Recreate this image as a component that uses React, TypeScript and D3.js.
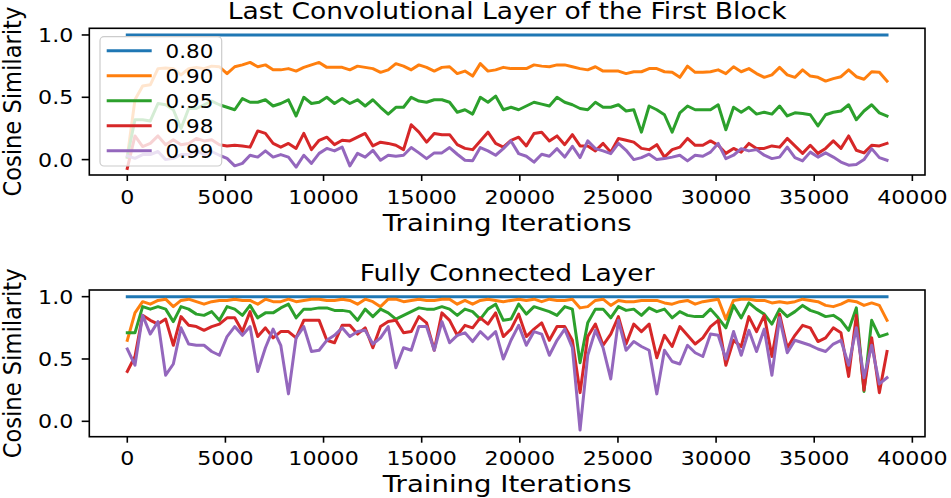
import * as React from 'react';
import * as d3 from 'd3';

// iterations per logged point (one epoch)
const STEP = 391;

const thresholds = ['0.80', '0.90', '0.95', '0.98', '0.99'];
const colors = ['#1f77b4', '#ff7f0e', '#2ca02c', '#d62728', '#9467bd'];
const xTicks = [0, 5000, 10000, 15000, 20000, 25000, 30000, 35000, 40000];
const yTicks = [0, 0.5, 1];

// Last Convolutional Layer of the First Block
const conv80 = Array.from({ length: 100 }, () => 1.0);
const conv90 = [0.02, 0.48, 0.59, 0.60, 0.73, 0.735, 0.73, 0.68, 0.73, 0.74,
  0.73, 0.75, 0.745, 0.69, 0.745, 0.76, 0.78, 0.745, 0.76, 0.72,
  0.72, 0.73, 0.71, 0.74, 0.76, 0.78, 0.74, 0.74, 0.74, 0.72,
  0.75, 0.74, 0.73, 0.70, 0.72, 0.77, 0.75, 0.72, 0.76, 0.74,
  0.71, 0.74, 0.745, 0.69, 0.71, 0.67, 0.77, 0.71, 0.72, 0.74,
  0.73, 0.73, 0.73, 0.76, 0.75, 0.745, 0.76, 0.76, 0.745, 0.73,
  0.72, 0.745, 0.71, 0.71, 0.71, 0.69, 0.705, 0.705, 0.73, 0.73,
  0.705, 0.70, 0.66, 0.75, 0.70, 0.70, 0.705, 0.72, 0.69, 0.745,
  0.705, 0.73, 0.69, 0.66, 0.68, 0.74, 0.68, 0.66, 0.72, 0.67,
  0.66, 0.63, 0.65, 0.665, 0.72, 0.665, 0.645, 0.705, 0.70, 0.63];
const conv95 = [0.02, 0.32, 0.32, 0.31, 0.45, 0.44, 0.40, 0.25, 0.41, 0.41,
  0.44, 0.47, 0.44, 0.42, 0.40, 0.49, 0.46, 0.46, 0.48, 0.43,
  0.45, 0.48, 0.35, 0.50, 0.45, 0.46, 0.50, 0.45, 0.49, 0.45,
  0.48, 0.43, 0.48, 0.42, 0.365, 0.42, 0.42, 0.50, 0.47, 0.46,
  0.48, 0.48, 0.46, 0.38, 0.40, 0.365, 0.50, 0.46, 0.51, 0.40,
  0.42, 0.40, 0.43, 0.46, 0.445, 0.43, 0.50, 0.46, 0.44, 0.41,
  0.40, 0.46, 0.42, 0.42, 0.44, 0.39, 0.40, 0.22, 0.43, 0.40,
  0.36, 0.22, 0.375, 0.43, 0.40, 0.40, 0.40, 0.44, 0.24, 0.42,
  0.38, 0.42, 0.365, 0.38, 0.365, 0.43, 0.35, 0.375, 0.37, 0.36,
  0.27, 0.36, 0.38, 0.39, 0.44, 0.32, 0.39, 0.44, 0.375, 0.35];
const conv98 = [-0.07, 0.19, 0.105, 0.13, 0.19, 0.12, 0.16, 0.12, 0.13, 0.17,
  0.15, 0.16, 0.12, 0.11, 0.115, 0.11, 0.10, 0.23, 0.21, 0.13,
  0.10, 0.13, 0.09, 0.21, 0.08, 0.155, 0.18, 0.12, 0.155, 0.15,
  0.18, 0.21, 0.11, 0.14, 0.13, 0.115, 0.08, 0.28, 0.22, 0.14,
  0.21, 0.20, 0.20, 0.12, 0.09, 0.08, 0.15, 0.22, 0.13, 0.10,
  0.155, 0.18, 0.11, 0.21, 0.22, 0.15, 0.19, 0.12, 0.20, 0.11,
  0.11, 0.07, 0.13, 0.06, 0.17, 0.155, 0.14, 0.09, 0.08, 0.12,
  0.02, 0.08, 0.10, 0.17, 0.115, 0.115, 0.15, 0.115, 0.05, 0.09,
  0.06, 0.13, 0.09, 0.09, 0.11, 0.10, 0.17, 0.11, 0.05, 0.115,
  0.05, 0.09, 0.15, 0.09, 0.19, 0.075, 0.054, 0.115, 0.11, 0.13];
const conv99 = [0.03, 0.01, 0.04, 0.04, 0.065, 0.0, 0.01, 0.04, 0.04, 0.07,
  0.04, 0.065, 0.035, 0.01, -0.05, -0.03, 0.035, 0.02, 0.07, 0.02,
  0.04, 0.02, -0.06, 0.035, -0.03, 0.05, 0.09, 0.07, 0.10, -0.05,
  0.05, 0.02, 0.075, -0.005, 0.035, 0.027, 0.035, 0.097, 0.054, 0.008,
  0.054, 0.054, 0.097, 0.043, -0.005, -0.01, 0.097, 0.07, 0.035, 0.088,
  0.15, 0.048, 0.027, -0.02, 0.043, 0.027, 0.088, 0.02, 0.107, 0.016,
  0.15, 0.088, 0.07, 0.048, 0.13, 0.075, 0.0, 0.016, 0.043, 0.0,
  0.008, 0.02, 0.035, -0.01, 0.035, 0.027, 0.06, 0.13, 0.008, 0.035,
  0.088, 0.07, 0.08, 0.035, 0.008, 0.02, 0.10, 0.016, -0.01, 0.06,
  0.02, 0.054, 0.02, -0.02, -0.045, -0.04, 0.0, 0.088, 0.016, -0.005];

// Fully Connected Layer
const fc80 = Array.from({ length: 100 }, () => 1.0);
const fc90 = [0.65, 0.87, 0.96, 0.94, 0.97, 0.98, 0.92, 0.97, 0.98, 0.96,
  0.94, 0.96, 0.97, 0.97, 0.98, 0.97, 0.97, 0.94, 0.98, 0.96,
  0.96, 0.98, 0.96, 0.97, 0.98, 0.98, 0.97, 0.97, 0.98, 0.97,
  0.94, 0.98, 0.96, 0.92, 0.98, 0.98, 0.96, 0.97, 0.98, 0.97,
  0.97, 0.98, 0.98, 0.94, 0.97, 0.94, 0.97, 0.98, 0.97, 0.96,
  0.97, 0.98, 0.97, 0.98, 0.96, 0.98, 0.97, 0.97, 0.98, 0.91,
  0.92, 0.97, 0.98, 0.93, 0.97, 0.96, 0.96, 0.97, 0.97, 0.97,
  0.95, 0.94, 0.96, 0.97, 0.94, 0.96, 0.97, 0.98, 0.82, 0.97,
  0.98, 0.98, 0.97, 0.97, 0.95, 0.96, 0.95, 0.96, 0.98, 0.97,
  0.96, 0.93, 0.92, 0.94, 0.97, 0.96, 0.93, 0.95, 0.93, 0.81];
const fc95 = [0.71, 0.71, 0.92, 0.90, 0.92, 0.90, 0.80, 0.92, 0.90, 0.86,
  0.85, 0.88, 0.81, 0.92, 0.90, 0.85, 0.93, 0.83, 0.87, 0.87,
  0.91, 0.94, 0.83, 0.90, 0.90, 0.91, 0.91, 0.89, 0.89, 0.88,
  0.81, 0.90, 0.84, 0.90, 0.87, 0.82, 0.85, 0.88, 0.91, 0.90,
  0.90, 0.92, 0.90, 0.85, 0.90, 0.88, 0.82, 0.90, 0.94, 0.81,
  0.82, 0.94, 0.86, 0.92, 0.90, 0.88, 0.85, 0.92, 0.90, 0.47,
  0.79, 0.90, 0.90, 0.83, 0.92, 0.89, 0.90, 0.85, 0.91, 0.88,
  0.90, 0.83, 0.88, 0.85, 0.84, 0.84, 0.90, 0.83, 0.75, 0.93,
  0.83, 0.95, 0.90, 0.86, 0.78, 0.90, 0.84, 0.88, 0.93, 0.89,
  0.87, 0.84, 0.85, 0.81, 0.73, 0.91, 0.24, 0.81, 0.68, 0.70];
const fc98 = [0.40, 0.52, 0.85, 0.81, 0.78, 0.82, 0.61, 0.84, 0.77, 0.76,
  0.73, 0.76, 0.78, 0.83, 0.83, 0.72, 0.88, 0.68, 0.75, 0.67,
  0.72, 0.72, 0.67, 0.81, 0.81, 0.81, 0.65, 0.63, 0.77, 0.77,
  0.70, 0.75, 0.59, 0.76, 0.80, 0.81, 0.71, 0.72, 0.84, 0.79,
  0.57, 0.87, 0.81, 0.69, 0.77, 0.75, 0.83, 0.78, 0.87, 0.68,
  0.74, 0.86, 0.68, 0.74, 0.79, 0.65, 0.76, 0.76, 0.65, 0.23,
  0.68, 0.78, 0.61, 0.70, 0.84, 0.62, 0.78, 0.72, 0.78, 0.51,
  0.69, 0.60, 0.76, 0.69, 0.62, 0.67, 0.76, 0.81, 0.45, 0.65,
  0.60, 0.84, 0.72, 0.85, 0.52, 0.86, 0.59, 0.69, 0.77, 0.75,
  0.64, 0.67, 0.75, 0.71, 0.36, 0.85, 0.25, 0.67, 0.23, 0.56];
const fc99 = [0.58, 0.45, 0.85, 0.70, 0.80, 0.37, 0.46, 0.75, 0.62, 0.61,
  0.61, 0.56, 0.53, 0.68, 0.76, 0.69, 0.76, 0.40, 0.59, 0.74,
  0.61, 0.22, 0.67, 0.76, 0.56, 0.57, 0.65, 0.69, 0.75, 0.68,
  0.72, 0.73, 0.62, 0.67, 0.76, 0.43, 0.59, 0.57, 0.76, 0.76,
  0.57, 0.80, 0.63, 0.69, 0.71, 0.64, 0.72, 0.66, 0.72, 0.50,
  0.65, 0.77, 0.61, 0.72, 0.70, 0.53, 0.65, 0.74, 0.59, -0.07,
  0.53, 0.73, 0.59, 0.34, 0.81, 0.57, 0.64, 0.60, 0.57, 0.22,
  0.57, 0.48, 0.46, 0.61, 0.55, 0.52, 0.70, 0.69, 0.50, 0.72,
  0.53, 0.73, 0.56, 0.74, 0.37, 0.83, 0.55, 0.65, 0.63, 0.61,
  0.58, 0.56, 0.62, 0.65, 0.45, 0.75, 0.35, 0.61, 0.30, 0.35];

const W = 951;
const H = 498;
const SX = 1.13; // the picture is stretched sideways
const FONT = 'DejaVu Sans';
const left = 89.3;
const right = 925;

type TxtProps = {
  x: number, y: number, size: number, anchor?: string, rotate?: boolean, sx?: number,
  children: React.ReactNode
};

const Txt = ({ x, y, size, anchor = 'start', rotate = false, sx = SX, children }: TxtProps) => (
  <text transform={`translate(${x},${y}) scale(${sx},1)${rotate ? ' rotate(-90)' : ''}`}
    textAnchor={anchor} fontSize={size} fontFamily={FONT} fill="#000">{children}</text>
);

type PanelProps = {
  title: string,
  series: number[][],
  top: number,
  bottom: number,
  legend: boolean
};

const Panel = ({ title, series, top, bottom, legend }: PanelProps) => {
  const n = series[0].length;
  const xMax = (n - 1) * STEP;
  const x = d3.scaleLinear().domain([-0.05 * xMax, 1.05 * xMax]).range([left, right]);
  const lo = d3.min(series, s => d3.min(s)) as number;
  const hi = d3.max(series, s => d3.max(s)) as number;
  const pad = (hi - lo) * 0.05;
  const y = d3.scaleLinear().domain([lo - pad, hi + pad]).range([bottom, top]);
  const line = d3.line<number>().x((_, i) => x(i * STEP)).y(d => y(d));
  const midX = (left + right) / 2;
  const midY = (top + bottom) / 2;

  return (
    <g>
      <Txt x={midX} y={top - 9.3} size={23.5} anchor="middle">{title}</Txt>
      {series.map((s, k) => (
        <path key={k} d={line(s) || ''} fill="none" stroke={colors[k]} strokeWidth={3}
          strokeLinejoin="round" strokeLinecap="square" />
      ))}
      {legend && (
        <g>
          <rect x={100} y={top + 8.4} width={121.7} height={129.3} rx={4} fill="#fff"
            fillOpacity={0.8} stroke="#cccccc" strokeWidth={1.2} />
          {thresholds.map((t, k) => {
            const ly = top + 22.4 + k * 25;
            return (
              <g key={t}>
                <line x1={106.7} x2={151.7} y1={ly} y2={ly} stroke={colors[k]} strokeWidth={3} />
                <Txt x={165.5} y={ly + 7} size={19}>{t}</Txt>
              </g>
            );
          })}
        </g>
      )}
      <rect x={left} y={top} width={right - left} height={bottom - top} fill="none"
        stroke="#000" strokeWidth={1.6} />
      {xTicks.map(t => (
        <g key={t}>
          <line x1={x(t)} x2={x(t)} y1={bottom} y2={bottom + 6} stroke="#000" strokeWidth={1.6} />
          <Txt x={x(t)} y={bottom + 28.5} size={19.6} anchor="middle">{String(t)}</Txt>
        </g>
      ))}
      {yTicks.map(t => (
        <g key={t}>
          <line x1={left - 7.6} x2={left} y1={y(t)} y2={y(t)} stroke="#000" strokeWidth={1.6} />
          <Txt x={73.3} y={y(t) + 7.1} size={19.6} anchor="end">{t.toFixed(1)}</Txt>
        </g>
      ))}
      <Txt x={midX} y={bottom + 55.5} size={22.6} sx={1.22} anchor="middle">Training Iterations</Txt>
      <Txt x={21} y={midY} size={22.6} anchor="middle" rotate>Cosine Similarity</Txt>
    </g>
  );
};

export default function App() {
  return (
    <svg width={W} height={H} viewBox={`0 0 ${W} ${H}`}
      style={{ position: 'fixed', left: 0, top: 0, background: '#fff' }}>
      <rect width={W} height={H} fill="#fff" />
      <Panel title="Last Convolutional Layer of the First Block"
        series={[conv80, conv90, conv95, conv98, conv99]} top={28.3} bottom={175} legend />
      <Panel title="Fully Connected Layer"
        series={[fc80, fc90, fc95, fc98, fc99]} top={290} bottom={436.7} legend={false} />
    </svg>
  );
}
